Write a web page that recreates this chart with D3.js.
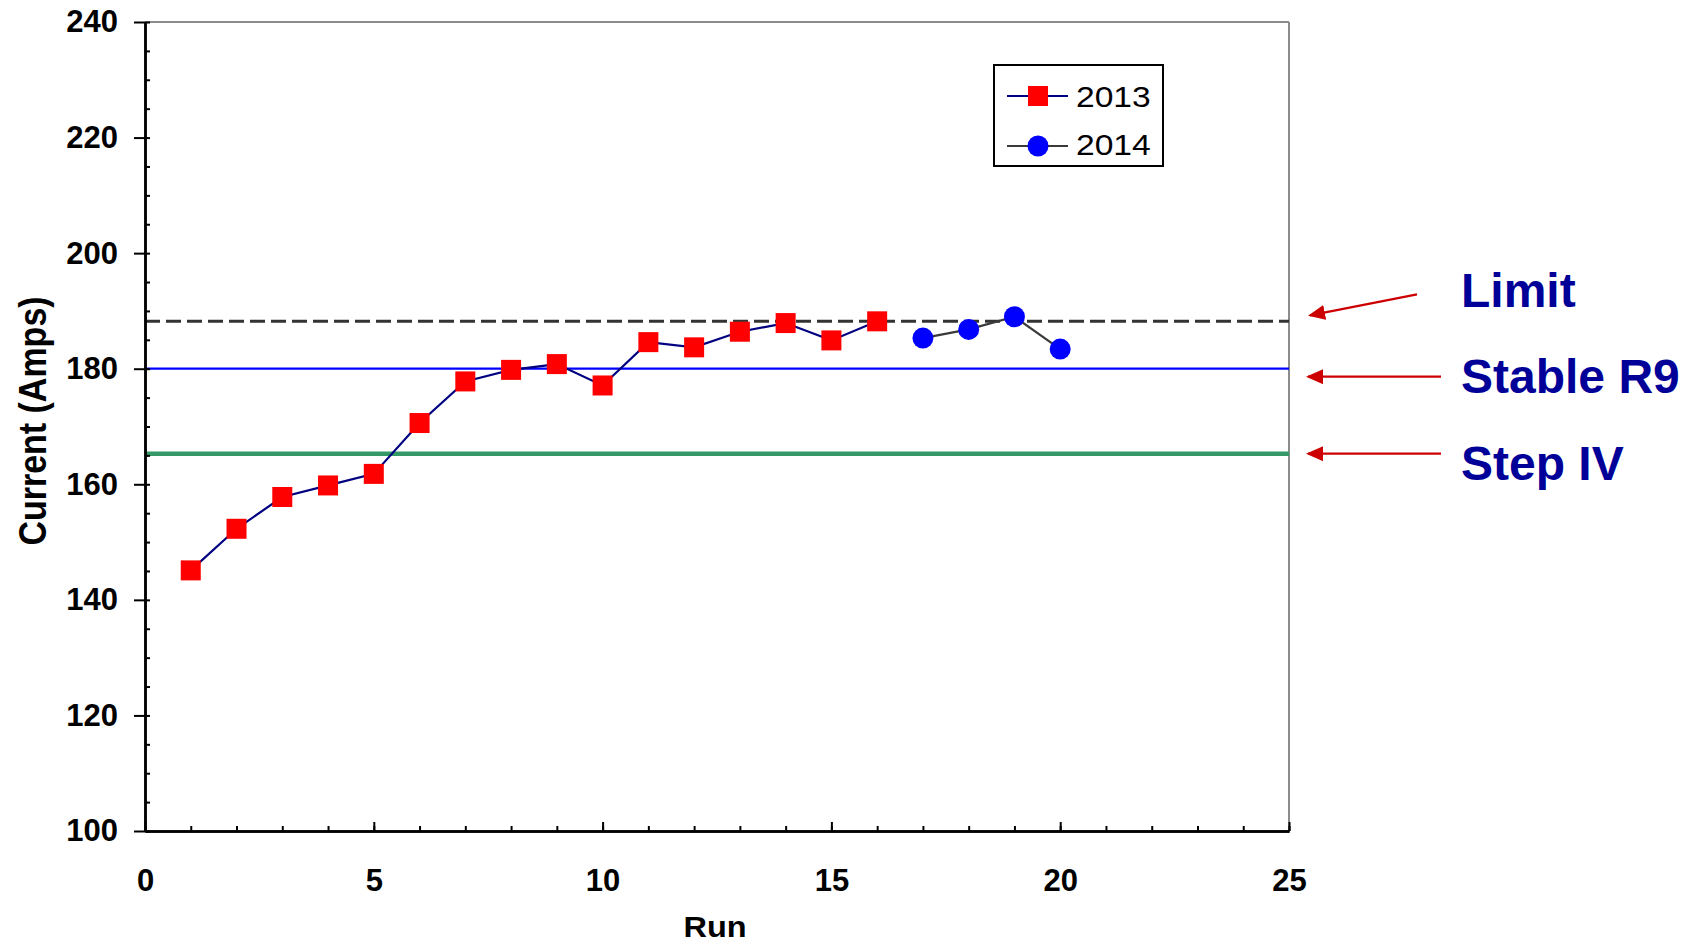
<!DOCTYPE html>
<html><head><meta charset="utf-8">
<script src="https://cdn.jsdelivr.net/npm/d3@7"></script>
<style>
body{margin:0;background:#fff;}
svg{display:block;font-family:"Liberation Sans",Arial,sans-serif;}
</style>
</head><body>
<svg id="c" width="1694" height="945"></svg>
<script>
// ---- data ----
const runs2013 = [1,2,3,4,5,6,7,8,9,10,11,12,13,14,15,16];
const current2013 = [145.1,152.3,157.8,159.8,161.8,170.6,177.8,179.8,180.8,177.1,184.6,183.7,186.4,187.9,184.9,188.2];
const runs2014 = [17,18,19,20];
const current2014 = [185.3,186.8,189.0,183.4];
const seriesNames = ["2013","2014"];
const limitValue = 188.2;
const stableR9Value = 180;
const stepIVValue = 165.3;
const annotationLabels = ["Limit","Stable R9","Step IV"];
const xMajorTicks = [0,5,10,15,20,25];
const yMajorTicks = [100,120,140,160,180,200,220,240];

// ---- layout ----
const svg = d3.select('#c');
const x = d3.scaleLinear().domain([0,25]).range([145,1289]);
const y = d3.scaleLinear().domain([100,240]).range([831,22]);

// frame (top/right)
svg.append('line').attr('x1',x(0)).attr('x2',x(25)).attr('y1',y(240)).attr('y2',y(240))
  .attr('stroke','#8c8c8c').attr('stroke-width',2);
svg.append('line').attr('x1',x(25)).attr('x2',x(25)).attr('y1',y(240)).attr('y2',y(100))
  .attr('stroke','#8c8c8c').attr('stroke-width',2);

// reference lines
svg.append('line').attr('x1',x(0)).attr('x2',x(25)).attr('y1',y(stepIVValue)).attr('y2',y(stepIVValue))
  .attr('stroke','#339966').attr('stroke-width',4.5);
svg.append('line').attr('x1',x(0)).attr('x2',x(25)).attr('y1',y(stableR9Value)).attr('y2',y(stableR9Value))
  .attr('stroke','#0000ff').attr('stroke-width',2.2);
svg.append('line').attr('x1',x(0)).attr('x2',x(25)).attr('y1',y(limitValue)).attr('y2',y(limitValue))
  .attr('stroke','#333333').attr('stroke-width',3).attr('stroke-dasharray','15,6');

// axes
const axStyle = g => {
  g.select('.domain').attr('stroke','#000').attr('stroke-width',2.5);
  g.selectAll('.tick line').attr('stroke','#000').attr('stroke-width',2);
  g.selectAll('.tick text').attr('fill','#000').attr('font-size',31).attr('font-weight','bold')
   .attr('font-family','"Liberation Sans",Arial,sans-serif');
};
svg.append('g').attr('transform',`translate(${x(0)},0)`)
  .call(d3.axisLeft(y).tickValues(d3.range(100,241,5)).tickSizeInner(-5).tickSizeOuter(0).tickFormat(''))
  .call(axStyle);
svg.append('g').attr('transform',`translate(${x(0)},0)`)
  .call(d3.axisLeft(y).tickValues(yMajorTicks).tickSizeInner(11).tickSizeOuter(0).tickPadding(16))
  .call(axStyle);
svg.append('g').attr('transform',`translate(0,${y(100)})`)
  .call(d3.axisBottom(x).tickValues(d3.range(0,26,1)).tickSizeInner(-5).tickSizeOuter(0).tickFormat(''))
  .call(axStyle);
svg.append('g').attr('transform',`translate(0,${y(100)})`)
  .call(d3.axisBottom(x).tickValues(xMajorTicks).tickSizeInner(-9).tickSizeOuter(0).tickPadding(38))
  .call(axStyle);

// series lines
const line = d3.line().x(d=>x(d[0])).y(d=>y(d[1]));
const d2013 = runs2013.map((r,i)=>[r,current2013[i]]);
const d2014 = runs2014.map((r,i)=>[r,current2014[i]]);
svg.append('path').datum(d2013).attr('d',line).attr('fill','none').attr('stroke','#000080').attr('stroke-width',2.2);
svg.append('path').datum(d2014).attr('d',line).attr('fill','none').attr('stroke','#3a3a3a').attr('stroke-width',2.2);

const sq = 20;
svg.append('g').selectAll('rect').data(d2013).join('rect')
  .attr('x',d=>x(d[0])-sq/2).attr('y',d=>y(d[1])-sq/2).attr('width',sq).attr('height',sq).attr('fill','#ff0000');
svg.append('g').selectAll('circle').data(d2014).join('circle')
  .attr('cx',d=>x(d[0])).attr('cy',d=>y(d[1])).attr('r',10.5).attr('fill','#0000ff');

// axis titles
svg.append('text').attr('transform',`translate(${(x(0)+x(25))/2-2},937) scale(1.12,1)`)
  .attr('text-anchor','middle').attr('font-size',29).attr('font-weight','bold').text('Run');
svg.append('text').attr('transform','translate(46,421) rotate(-90) scale(1,1.12)')
  .attr('text-anchor','middle').attr('font-size',34).attr('font-weight','bold').text('Current (Amps)');

// legend
const lg = svg.append('g');
lg.append('rect').attr('x',994).attr('y',65).attr('width',169).attr('height',101)
  .attr('fill','#fff').attr('stroke','#000').attr('stroke-width',2);
const legendRows = [
  {name:seriesNames[0], cy:96, stroke:'#000080', shape:'rect', base:106.5},
  {name:seriesNames[1], cy:146, stroke:'#3a3a3a', shape:'circle', base:155}
];
legendRows.forEach(r=>{
  lg.append('line').attr('x1',1007).attr('x2',1068).attr('y1',r.cy).attr('y2',r.cy).attr('stroke',r.stroke).attr('stroke-width',2.2);
  if(r.shape==='rect') lg.append('rect').attr('x',1038-sq/2).attr('y',r.cy-sq/2).attr('width',sq).attr('height',sq).attr('fill','#ff0000');
  else lg.append('circle').attr('cx',1038).attr('cy',r.cy).attr('r',10.5).attr('fill','#0000ff');
  lg.append('text').attr('transform',`translate(1076,${r.base}) scale(1.12,1)`).attr('font-size',30).attr('fill','#000').text(r.name);
});

// annotations
const defs = svg.append('defs');
defs.append('marker').attr('id','ah').attr('viewBox','0 0 17 15').attr('markerUnits','userSpaceOnUse')
  .attr('markerWidth',17).attr('markerHeight',15).attr('refX',15).attr('refY',7.5).attr('orient','auto')
  .append('path').attr('d','M0,0 L17,7.5 L0,15 Z').attr('fill','#cc0000');
const tipX = x(25)+19;
const annos = [
  {label:annotationLabels[0], x1:1417, y1:y(limitValue)-27, x2:tipX+2, y2:y(limitValue)-6, ty:306.5},
  {label:annotationLabels[1], x1:1441, y1:y(stableR9Value)+8, x2:tipX, y2:y(stableR9Value)+8, ty:393.3},
  {label:annotationLabels[2], x1:1441, y1:y(stepIVValue), x2:tipX, y2:y(stepIVValue), ty:480}
];
annos.forEach(a=>{
  svg.append('line').attr('x1',a.x1).attr('y1',a.y1).attr('x2',a.x2).attr('y2',a.y2)
    .attr('stroke','#cc0000').attr('stroke-width',2.2).attr('marker-end','url(#ah)');
  svg.append('text').attr('x',1461).attr('y',a.ty).attr('font-size',48).attr('font-weight','bold')
    .attr('fill','#000099').text(a.label);
});
</script>
</body></html>
